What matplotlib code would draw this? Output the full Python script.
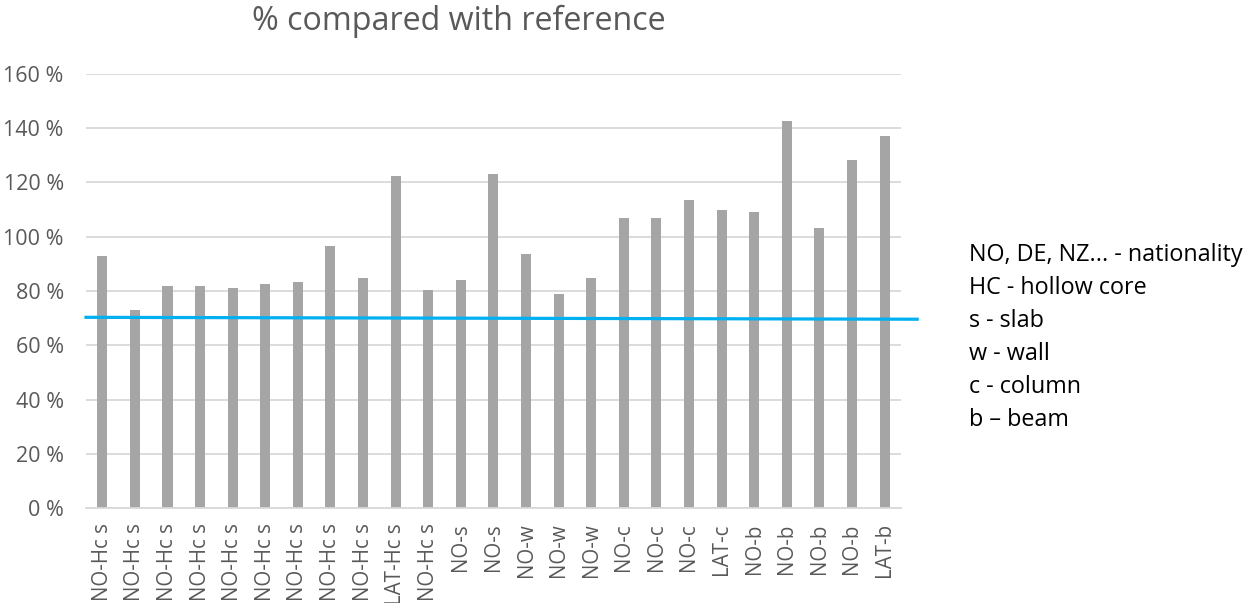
import numpy as np
import matplotlib.pyplot as plt
from matplotlib.ticker import FuncFormatter

plt.rcParams['font.family'] = ['Open Sans', 'DejaVu Sans']

# element labels and their ratio to the reference (%)
labels = ['NO-Hc s'] * 9 + ['LAT-Hc s', 'NO-Hc s', 'NO-s', 'NO-s',
          'NO-w', 'NO-w', 'NO-w', 'NO-c', 'NO-c', 'NO-c', 'LAT-c',
          'NO-b', 'NO-b', 'NO-b', 'NO-b', 'LAT-b']
values = [93.0, 73.1, 81.9, 81.9, 81.2, 82.6, 83.4, 96.6, 84.9, 122.4,
          80.4, 84.1, 123.2, 93.7, 79.0, 84.9, 107.0, 107.0, 113.6, 109.9,
          109.2, 142.5, 103.3, 128.3, 137.2]
limit = 70
notes = ['NO, DE, NZ... - nationality', 'HC - hollow core', 's - slab',
         'w - wall', 'c - column', 'b \u2013 beam']

grey_txt = '#595959'
fig = plt.figure(figsize=(12.46, 6.03), dpi=100)
ax = fig.add_axes([0.069, 0.1575, 0.654, 0.7198])

x = np.arange(len(values))
ax.bar(x, values, width=0.31, color='#A5A5A5', zorder=2)
ax.set_xlim(-0.5, len(values) - 0.5)
ax.set_ylim(0, 160)
ax.set_yticks(np.arange(0, 161, 20))
ax.yaxis.set_major_formatter(FuncFormatter(lambda v, p: '%d %%' % v))
ax.set_xticks(x)
ax.set_xticklabels(labels, rotation=90, va='top')
ax.tick_params(axis='both', length=0, colors=grey_txt)
ax.tick_params(axis='x', labelsize=14.8, pad=11)
ax.tick_params(axis='y', labelsize=15.5, pad=16)
ax.grid(axis='y', color='#D9D9D9', linewidth=1.3, zorder=0)
for s in ['top', 'right', 'left']:
    ax.spines[s].set_visible(False)
ax.spines['bottom'].set_color('#D9D9D9')
ax.spines['bottom'].set_linewidth(1.3)

# reference limit line
ax.plot([-0.5, len(values) + 0.0], [limit + 0.3, limit - 0.4],
        color='#00B0F0', linewidth=2.3, zorder=3, clip_on=False)

fig.text(459 / 1246, 1 - 30 / 603, '% compared with reference', fontsize=23.2,
         color=grey_txt, ha='center', va='baseline')

for i, t in enumerate(notes):
    fig.text(0.778, 1 - (255 + i * 33) / 603, t, fontsize=16.8, color='black',
             va='center', ha='left')

fig.savefig('out.png', dpi=100)
